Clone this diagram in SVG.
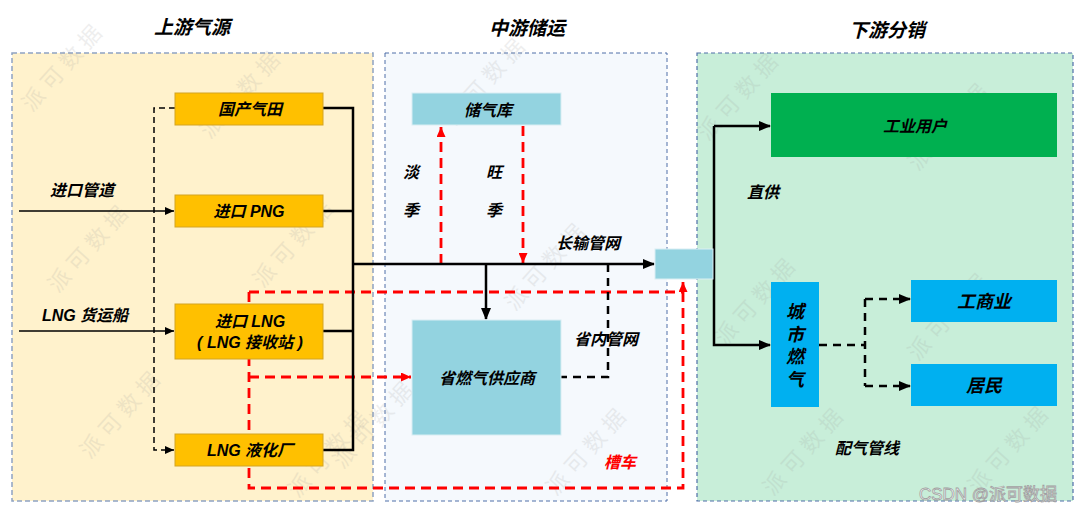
<svg xmlns="http://www.w3.org/2000/svg" width="1080" height="513" viewBox="0 0 1080 513">
<style>
text{font-family:"Liberation Sans","Noto Sans CJK SC",sans-serif;font-weight:bold;font-style:italic;fill:#000;text-anchor:middle;dominant-baseline:central}
.t{font-size:19px}
.l{font-size:16px}
.big{font-size:18px}
.wm{font-size:22px;fill:#9a9a9a;opacity:0.16;font-style:normal;font-weight:normal;letter-spacing:6px}
.blk{fill:none;stroke:#000;stroke-width:2.5}
.thin{fill:none;stroke:#000;stroke-width:1.5}
.bdash{fill:none;stroke:#000;stroke-width:1.5;stroke-dasharray:6 4}
.bdash2{fill:none;stroke:#000;stroke-width:2.5;stroke-dasharray:8 6}
.rdash{fill:none;stroke:#FF0000;stroke-width:2.8;stroke-dasharray:10 6}
.orange{fill:#FFC000;stroke:#D4A422;stroke-width:1}
.teal{fill:#93D3E0;stroke:#D9EEF3;stroke-width:1}
</style>
<defs>
<marker id="ab" markerUnits="userSpaceOnUse" markerWidth="12" markerHeight="10" refX="11" refY="5" orient="auto"><path d="M0,0 L12,5 L0,10 z" fill="#000"/></marker>
<marker id="as" markerUnits="userSpaceOnUse" markerWidth="9" markerHeight="8" refX="9" refY="4" orient="auto"><path d="M0,0 L9,4 L0,8 z" fill="#000"/></marker>
<marker id="ar" markerUnits="userSpaceOnUse" markerWidth="10" markerHeight="9" refX="10" refY="4.5" orient="auto"><path d="M0,0 L10,4.5 L0,9 z" fill="#FF0000"/></marker>
</defs>
<rect width="1080" height="513" fill="#fff"/>
<g id="panels">
<rect x="12" y="53" width="361" height="448" fill="#FFF2CC" stroke="#8EA3C2" stroke-width="1.5" stroke-dasharray="5 3"/>
<rect x="385" y="53" width="282" height="448" fill="#F5F9FD" stroke="#4F6FA8" stroke-width="1" stroke-dasharray="4 3"/>
<rect x="697" y="53" width="376" height="448" fill="#C8EED9" stroke="#4F6FA8" stroke-width="1.2" stroke-dasharray="4 3"/>
</g>
<g id="titles">
<text class="t" x="192" y="27">上游气源</text>
<text class="t" x="527" y="28">中游储运</text>
<text class="t" x="887" y="30">下游分销</text>
</g>
<g id="watermark">
<text class="wm" transform="translate(64,66) rotate(-48)">派可数据</text>
<text class="wm" transform="translate(242,93) rotate(-48)">派可数据</text>
<text class="wm" transform="translate(90,247) rotate(-48)">派可数据</text>
<text class="wm" transform="translate(295,242) rotate(-48)">派可数据</text>
<text class="wm" transform="translate(122,413) rotate(-48)">派可数据</text>
<text class="wm" transform="translate(330,452) rotate(-48)">派可数据</text>
<text class="wm" transform="translate(487,80) rotate(-48)">派可数据</text>
<text class="wm" transform="translate(547,265) rotate(-48)">派可数据</text>
<text class="wm" transform="translate(375,423) rotate(-48)">派可数据</text>
<text class="wm" transform="translate(588,450) rotate(-48)">派可数据</text>
<text class="wm" transform="translate(740,95) rotate(-48)">派可数据</text>
<text class="wm" transform="translate(950,125) rotate(-48)">派可数据</text>
<text class="wm" transform="translate(757,300) rotate(-48)">派可数据</text>
<text class="wm" transform="translate(950,315) rotate(-48)">派可数据</text>
<text class="wm" transform="translate(805,450) rotate(-48)">派可数据</text>
<text class="wm" transform="translate(1010,448) rotate(-48)">派可数据</text>
</g>
<g id="connectors">
<path class="rdash" d="M249,292 H683"/>
<path class="rdash" d="M249,292 V488 H683 V282" marker-end="url(#ar)"/>
<path class="rdash" d="M249,377 H411" marker-end="url(#ar)"/>
<path class="rdash" d="M441,264 V127" marker-end="url(#ar)"/>
<path class="rdash" d="M523,126 V263" marker-end="url(#ar)"/>
<path class="bdash" d="M175,108 H154 V450 H174" marker-end="url(#as)"/>
<path class="thin" d="M19,211 H174" marker-end="url(#as)"/>
<path class="thin" d="M19,331 H174" marker-end="url(#as)"/>
<path class="blk" d="M323,108 H353 V450 H323"/>
<path class="blk" d="M323,211 H353"/>
<path class="blk" d="M323,331 H353"/>
<path class="blk" d="M353,264 H654" marker-end="url(#ab)"/>
<path class="blk" d="M486,264 V319" marker-end="url(#ab)"/>
<path class="bdash2" d="M608,264 V377 H561"/>
<path class="blk" d="M714,126 V345 H770" marker-end="url(#ab)"/>
<path class="blk" d="M714,126 H770" marker-end="url(#ab)"/>
<path class="bdash2" d="M819,345 H865"/>
<path class="bdash2" d="M865,299 V386"/>
<path class="bdash2" d="M865,299 H910" marker-end="url(#ab)"/>
<path class="bdash2" d="M865,386 H910" marker-end="url(#ab)"/>
</g>
<g id="n-guochan"><rect class="orange" x="175" y="93" width="148" height="32"/><text class="l" x="250" y="109">国产气田</text></g>
<g id="n-png"><rect class="orange" x="175" y="195" width="148" height="32"/><text class="l" x="249" y="211">进口 PNG</text></g>
<g id="n-lng"><rect class="orange" x="175" y="304" width="148" height="55"/><text class="l" x="250" y="321">进口 LNG</text><text class="l" x="250" y="342">( LNG 接收站 )</text></g>
<g id="n-yehua"><rect class="orange" x="175" y="434" width="148" height="32"/><text class="l" x="250" y="450">LNG 液化厂</text></g>
<g id="n-chuqiku"><rect class="teal" x="412" y="93" width="149" height="32"/><text class="l" x="488" y="110">储气库</text></g>
<g id="n-shengran"><rect class="teal" x="412" y="320" width="149" height="115"/><text class="l" x="487" y="378">省燃气供应商</text></g>
<g id="n-hub"><rect class="teal" x="655" y="249" width="58" height="30"/></g>
<g id="n-gongye"><rect x="771" y="93" width="286" height="64" fill="#00B050"/><text class="l" x="915" y="126">工业用户</text></g>
<g id="n-chengshi"><rect x="771" y="282" width="48" height="125" fill="#00B0F0"/>
<text class="big" x="795" y="312">城</text><text class="big" x="795" y="335">市</text><text class="big" x="795" y="357">燃</text><text class="big" x="795" y="380">气</text></g>
<g id="n-gongshang"><rect x="911" y="280" width="146" height="42" fill="#00B0F0"/><text class="big" x="984" y="302">工商业</text></g>
<g id="n-jumin"><rect x="911" y="364" width="146" height="42" fill="#00B0F0"/><text class="big" x="984" y="386">居民</text></g>
<g id="labels">
<text class="l" x="82" y="190">进口管道</text>
<text class="l" x="85" y="315">LNG 货运船</text>
<text class="l" x="411" y="172">淡</text>
<text class="l" x="411" y="210">季</text>
<text class="l" x="494" y="172">旺</text>
<text class="l" x="494" y="210">季</text>
<text class="l" x="588" y="243">长输管网</text>
<text class="l" x="606" y="339">省内管网</text>
<text class="l" x="620" y="462" style="fill:#FF0000">槽车</text>
<text class="l" x="763" y="192">直供</text>
<text class="l" x="867" y="448">配气管线</text>
<text x="988" y="494" style="font-size:17px;font-style:normal;font-weight:normal;fill:#ffffff;stroke:#a0a0a0;stroke-width:0.8">CSDN @派可数据</text>
</g>
</svg>
